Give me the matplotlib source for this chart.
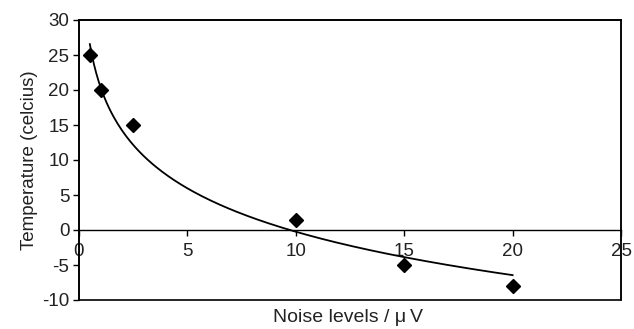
import numpy as np
import matplotlib.pyplot as plt
from matplotlib import patches

plt.rcParams['font.family'] = ['Liberation Sans', 'DejaVu Sans']
plt.rcParams['axes.unicode_minus'] = False

# measured points
noise = [0.5, 1, 2.5, 10, 15, 20]
temp = [25, 20, 15, 1.5, -5, -8]

x_ticks = [0, 5, 10, 15, 20, 25]
y_ticks = [-10, -5, 0, 5, 10, 15, 20, 25, 30]

fig = plt.figure(figsize=(6.34, 3.29), dpi=100)
ax = fig.add_axes([79 / 634, 29 / 329, 542 / 634, 280 / 329])

# logarithmic trend line (least squares on ln x)
b, a = np.polyfit(np.log(noise), temp, 1)
xs = np.linspace(min(noise), max(noise), 200)
ax.plot(xs, a + b * np.log(xs), color='black', lw=1.3, zorder=2)

ax.plot(noise, temp, linestyle='none', marker='D', markersize=7,
        color='black', zorder=3, clip_on=False)

ax.set_xlim(0, 25)
ax.set_ylim(-10, 30)
ax.set_xticks(x_ticks)
ax.set_yticks(y_ticks)

# x axis crosses at y = 0, box frame around the plot area
ax.spines['bottom'].set_position(('data', 0))
for s in ['top', 'right', 'left']:
    ax.spines[s].set_linewidth(1.2)
ax.spines['right'].set_color('#333333')
ax.spines['bottom'].set_linewidth(1.0)
ax.add_patch(patches.Rectangle((0, 0), 1, 1, transform=ax.transAxes, fill=False,
                               lw=1.2, edgecolor='black', zorder=4, clip_on=False))

ax.tick_params(axis='x', direction='out', length=4, width=1, labelsize=13.5,
               pad=5, labelcolor='#222222')
ax.tick_params(axis='y', direction='out', length=4, width=1, labelsize=13.5,
               pad=3, labelcolor='#222222')

ax.set_ylabel('Temperature (celcius)', fontsize=13.5, labelpad=3, color='#222222')
fig.text(348 / 634, 1 - 318 / 329, 'Noise levels / \u03bc\u2009V', fontsize=14,
         ha='center', va='center', color='#222222')

fig.savefig('out.png', dpi=100)
